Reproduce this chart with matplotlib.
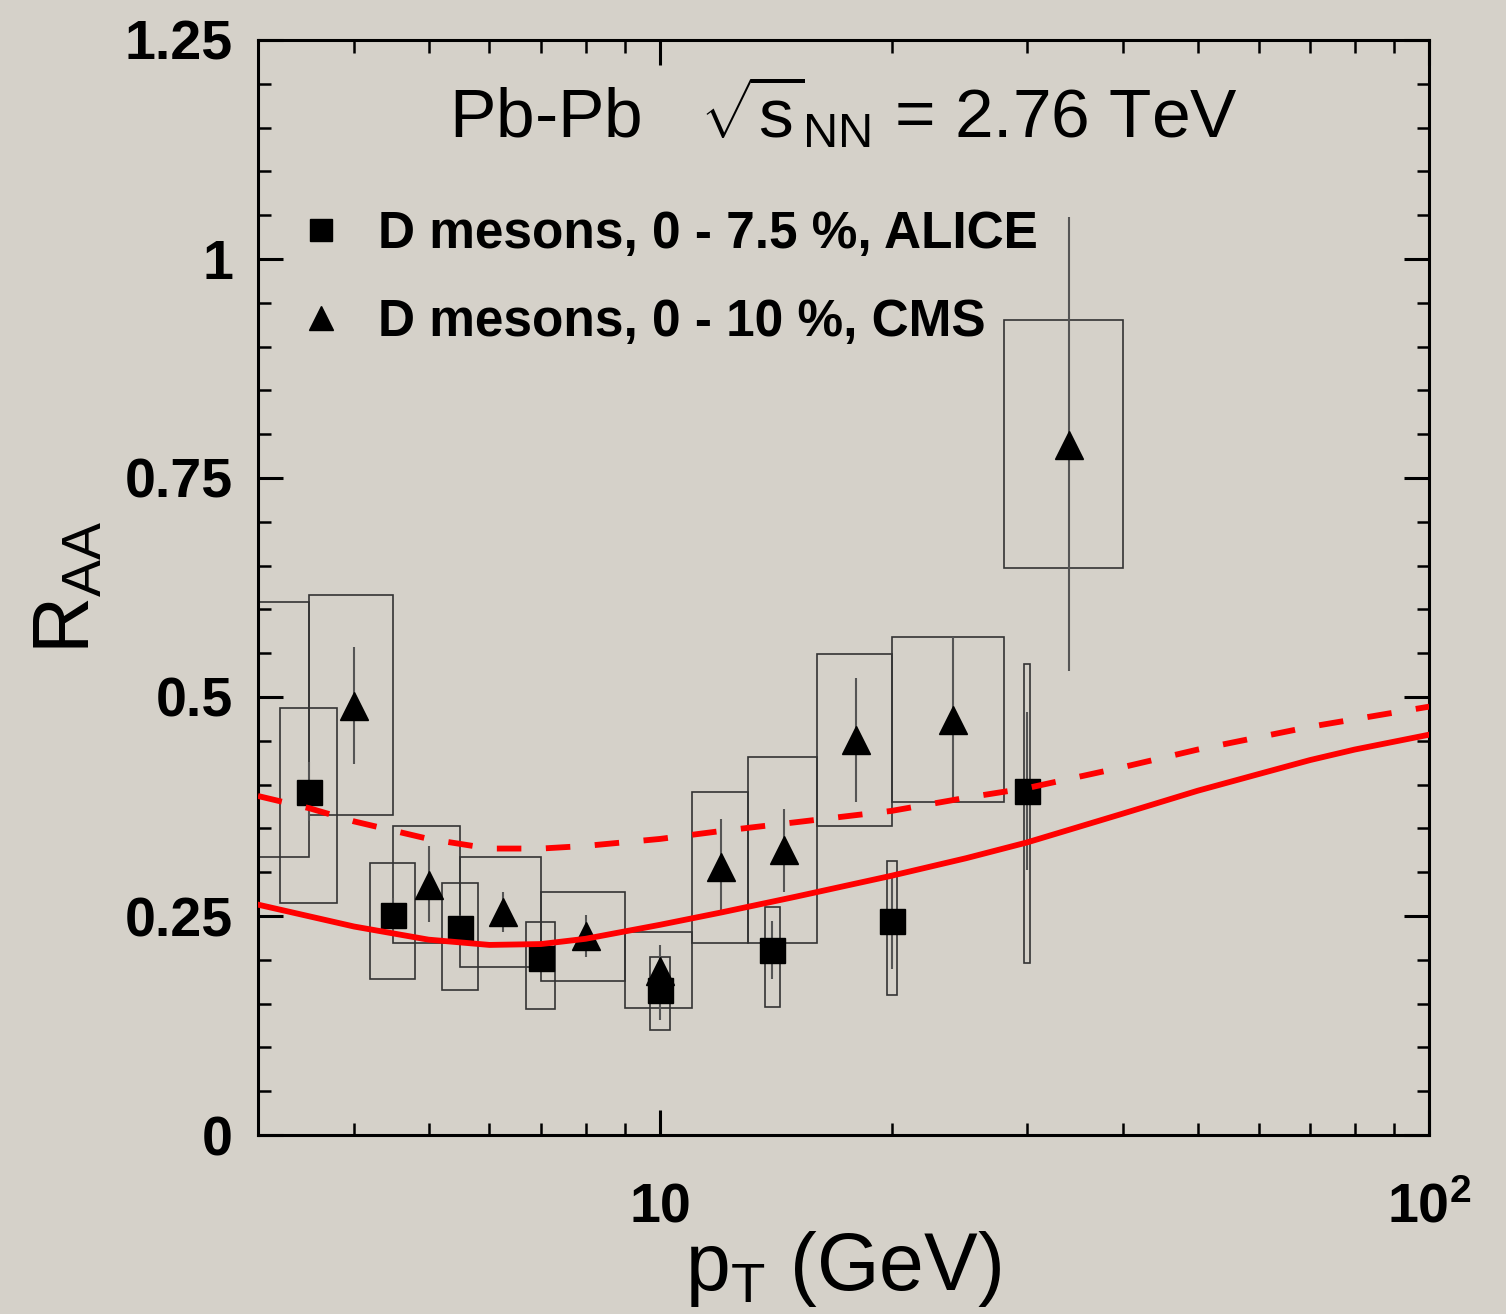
import matplotlib
matplotlib.use('Agg')
import matplotlib.pyplot as plt
from matplotlib.patches import Rectangle
from matplotlib.ticker import FixedLocator, NullFormatter, MultipleLocator, LogLocator

plt.rcParams['font.family'] = ['Liberation Sans', 'DejaVu Sans']
plt.rcParams['mathtext.fontset'] = 'custom'
plt.rcParams['mathtext.rm'] = 'Liberation Sans'
plt.rcParams['mathtext.it'] = 'Liberation Sans:italic'
plt.rcParams['mathtext.bf'] = 'Liberation Sans:bold'

# ALICE D mesons, 0-7.5 %
alice_pt = [3.5, 4.5, 5.5, 7, 10, 14, 20, 30]
alice_raa = [0.392, 0.251, 0.236, 0.202, 0.166, 0.211, 0.244, 0.393]
alice_stat = [0.034, 0.020, 0.015, 0.015, 0.035, 0.033, 0.055, 0.090]
alice_sys_lo = [0.265, 0.178, 0.166, 0.144, 0.120, 0.146, 0.160, 0.196]
alice_sys_hi = [0.487, 0.310, 0.288, 0.243, 0.203, 0.260, 0.313, 0.538]
alice_box_hw = 0.3

# CMS D mesons, 0-10 %
cms_pt = [2.75, 4, 5, 6.25, 8, 10, 12, 14.5, 18, 24, 34]
cms_lo = [2, 3.5, 4.5, 5.5, 7, 9, 11, 13, 16, 20, 28]
cms_hi = [3.5, 4.5, 5.5, 7, 9, 11, 13, 16, 20, 28, 40]
cms_raa = [0.46, 0.490, 0.285, 0.255, 0.227, 0.187, 0.306, 0.325, 0.451, 0.474, 0.788]
cms_stat_lo = [0.06, 0.066, 0.042, 0.023, 0.024, 0.03, 0.049, 0.048, 0.071, 0.094, 0.258]
cms_stat_hi = [0.06, 0.067, 0.045, 0.022, 0.024, 0.03, 0.055, 0.047, 0.071, 0.095, 0.260]
cms_sys_lo = [0.317, 0.365, 0.219, 0.192, 0.176, 0.145, 0.219, 0.219, 0.353, 0.380, 0.647]
cms_sys_hi = [0.608, 0.616, 0.353, 0.317, 0.277, 0.232, 0.392, 0.432, 0.549, 0.569, 0.930]

# model curves
solid_pt = [3, 4, 5, 6, 7, 8, 10, 12, 15, 20, 25, 30, 40, 50, 60, 70, 80, 100]
solid_raa = [0.263, 0.238, 0.223, 0.217, 0.218, 0.224, 0.240, 0.254, 0.272, 0.296,
             0.316, 0.334, 0.367, 0.393, 0.412, 0.428, 0.440, 0.457]
dashed_pt = [3, 3.5, 4, 5, 6, 7, 8, 10, 12, 15, 20, 25, 30, 40, 50, 70, 100]
dashed_raa = [0.387, 0.373, 0.358, 0.338, 0.327, 0.327, 0.330, 0.338, 0.347, 0.357,
              0.370, 0.385, 0.396, 0.420, 0.440, 0.466, 0.489]

bg = '#d5d1c9'
fig = plt.figure(figsize=(15.06, 13.14), dpi=100, facecolor=bg)
ax = fig.add_axes([0.1713, 0.1362, 0.7777, 0.8334])
ax.set_facecolor(bg)

# systematic boxes
for x, lo, hi in zip(alice_pt, alice_sys_lo, alice_sys_hi):
    ax.add_patch(Rectangle((x - alice_box_hw, lo), 2 * alice_box_hw, hi - lo,
                           fill=False, ec='#333333', lw=1.2, zorder=1))
for x0, x1, lo, hi in zip(cms_lo, cms_hi, cms_sys_lo, cms_sys_hi):
    ax.add_patch(Rectangle((x0, lo), x1 - x0, hi - lo,
                           fill=False, ec='#333333', lw=1.2, zorder=1))

# stat errors
ax.errorbar(alice_pt, alice_raa, yerr=alice_stat, fmt='none', ecolor='#555555',
            elinewidth=1.5, capsize=0, zorder=2)
ax.errorbar(cms_pt, cms_raa, yerr=[cms_stat_lo, cms_stat_hi], fmt='none',
            ecolor='#555555', elinewidth=1.5, capsize=0, zorder=2)

h_alice, = ax.plot(alice_pt, alice_raa, ls='none', marker='s', ms=18, color='black', zorder=3)
h_cms, = ax.plot(cms_pt, cms_raa, ls='none', marker='^', ms=19.5, color='black', zorder=3)

# model curves
ax.plot(solid_pt, solid_raa, color='red', lw=4.2, zorder=4)
ax.plot(dashed_pt, dashed_raa, color='red', lw=4.2, ls=(0, (4.2, 4.2)), zorder=4)

ax.set_xscale('log')
ax.set_xlim(3, 100)
ax.set_ylim(0, 1.25)

ax.xaxis.set_major_locator(FixedLocator([10, 100]))
ax.set_xticklabels(['10', r'$\mathbf{10^{2}}$'])
ax.xaxis.set_minor_locator(LogLocator(base=10, subs=[2, 3, 4, 5, 6, 7, 8, 9]))
ax.xaxis.set_minor_formatter(NullFormatter())
ax.yaxis.set_major_locator(MultipleLocator(0.25))
ax.yaxis.set_minor_locator(MultipleLocator(0.05))
ax.set_yticks([0, 0.25, 0.5, 0.75, 1, 1.25])
ax.set_yticklabels(['0', '0.25', '0.5', '0.75', '1', '1.25'])

for s in ax.spines.values():
    s.set_linewidth(2.2)
ax.tick_params(which='both', direction='in', top=True, right=True)
ax.tick_params(which='major', length=18, width=2.2, labelsize=40)
ax.tick_params(which='minor', length=9, width=1.8)
ax.tick_params(axis='y', pad=18)
ax.tick_params(axis='x', pad=34)
for lab in ax.get_xticklabels() + ax.get_yticklabels():
    lab.set_fontweight('bold')

ax.set_xlabel(r'p$_{\mathrm{T}}$ (GeV)', fontsize=58, labelpad=-4)
ax.set_ylabel(r'R$_{\mathrm{AA}}$', fontsize=57, labelpad=13)

ax.text(0.5, 0.911, r'Pb-Pb   $\sqrt{\mathrm{s}}_{\mathrm{NN}}$ = 2.76 TeV',
        transform=ax.transAxes, ha='center', va='baseline', fontsize=50)

ax.legend([h_alice, h_cms], ['D mesons, 0 - 7.5 %, ALICE', 'D mesons, 0 - 10 %, CMS'],
          loc='center left', bbox_to_anchor=(0.0316, 0.782), frameon=False,
          prop={'weight': 'bold', 'size': 37}, handlelength=1.0, handletextpad=0.62,
          labelspacing=0.75, borderpad=0, borderaxespad=0, markerscale=0.85)

fig.savefig('out.png', dpi=100, facecolor=bg)
